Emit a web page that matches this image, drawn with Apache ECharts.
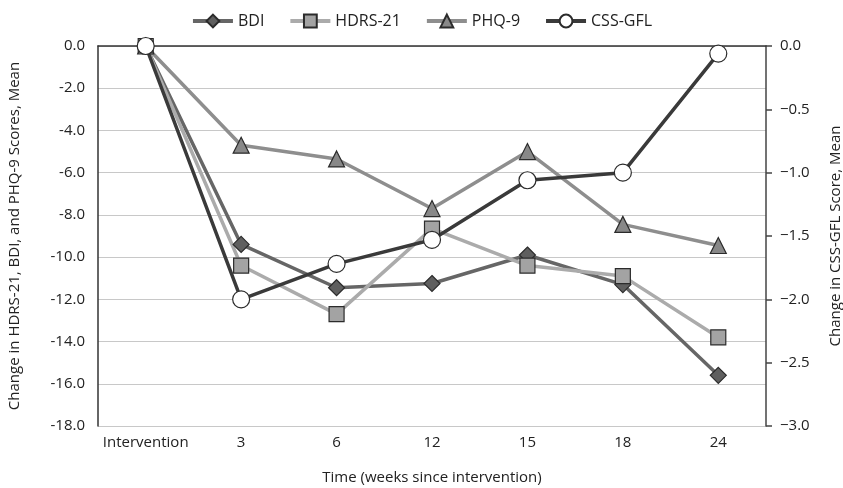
<!DOCTYPE html>
<html>
<head>
<meta charset="utf-8">
<script src="https://cdn.jsdelivr.net/npm/echarts@6/dist/echarts.min.js"></script>
<style>html,body{margin:0;padding:0;background:#fff;}#c{width:843px;height:488px;}</style>
</head>
<body>
<div id="c"></div>
<script>
var categories = ['Intervention', '3', '6', '12', '15', '18', '24'];
var bdi = [0, -9.4, -11.45, -11.25, -9.9, -11.3, -15.6];
var hdrs = [0, -10.4, -12.7, -8.65, -10.4, -10.9, -13.8];
var phq = [0, -4.7, -5.35, -7.7, -5.0, -8.45, -9.45];
var cssgfl = [0, -2.0, -1.72, -1.53, -1.06, -1.0, -0.06];
var leftTicks = {min: -18, max: 0, interval: 2};
var rightTicks = {min: -3, max: 0, interval: 0.5};

var FONT = '"Open Sans", "Noto Sans", sans-serif';
var chart = echarts.init(document.getElementById('c'), null, {renderer: 'canvas'});
function mk(name, data, lineColor, symbol, size, fill, yIdx) {
  return {
    name: name, type: 'line', data: data, yAxisIndex: yIdx,
    symbol: symbol, symbolSize: size, showAllSymbol: true,
    lineStyle: {color: lineColor, width: 3.5},
    itemStyle: {color: fill, borderColor: '#2b2b2b', borderWidth: 1.2},
    emphasis: {disabled: true}
  };
}
chart.setOption({
  animation: false,
  textStyle: {fontFamily: FONT},
  legend: {
    top: 8, left: 'center', itemWidth: 40, itemHeight: 16, itemGap: 24,
    lineStyle: {width: 4},
    textStyle: {fontSize: 16, color: '#222', fontFamily: FONT},
    data: ['BDI', 'HDRS-21', 'PHQ-9', 'CSS-GFL']
  },
  grid: {left: 98, right: 77, top: 46, bottom: 62, containLabel: false, outerBoundsMode: 'none'},
  xAxis: {
    type: 'category', data: categories, boundaryGap: true,
    name: 'Time (weeks since intervention)', nameLocation: 'middle', nameGap: 44,
    nameTextStyle: {fontSize: 15, color: '#222'},
    axisLine: {lineStyle: {color: '#333', width: 1.5}},
    axisTick: {show: false},
    axisLabel: {fontSize: 15, color: '#222', margin: 9, interval: 0}
  },
  yAxis: [{
    type: 'value', min: leftTicks.min, max: leftTicks.max, interval: leftTicks.interval,
    position: 'left',
    name: 'Change in HDRS-21, BDI, and PHQ-9 Scores, Mean', nameLocation: 'middle', nameGap: 76,
    nameTextStyle: {fontSize: 15, color: '#222'},
    axisLine: {show: true, lineStyle: {color: '#333', width: 1.5}},
    axisTick: {show: false},
    axisLabel: {fontSize: 15, color: '#222', margin: 13, formatter: function (v) { return v.toFixed(1); }},
    splitLine: {lineStyle: {color: '#c8c8c8', width: 1.2}}
  }, {
    type: 'value', min: rightTicks.min, max: rightTicks.max, interval: rightTicks.interval,
    position: 'right',
    name: 'Change in CSS-GFL Score, Mean', nameLocation: 'middle', nameGap: 62, nameRotate: 90,
    nameTextStyle: {fontSize: 15, color: '#222'},
    axisLine: {show: true, lineStyle: {color: '#444', width: 1.5}},
    axisTick: {show: true, length: 6, lineStyle: {color: '#444', width: 1.5}},
    axisLabel: {fontSize: 15, color: '#222', margin: 14, formatter: function (v) { return (v < 0 ? '\u2212' + Math.abs(v).toFixed(1) : v.toFixed(1)); }},
    splitLine: {show: false}
  }],
  series: [
    mk('BDI', bdi, '#666666', 'diamond', 16, '#5f5f5f', 0),
    mk('HDRS-21', hdrs, '#ababab', 'rect', 15, '#a3a3a3', 0),
    mk('PHQ-9', phq, '#8e8e8e', 'triangle', 16, '#888888', 0),
    mk('CSS-GFL', cssgfl, '#3a3a3a', 'circle', 17, '#ffffff', 1)
  ]
});
</script>
</body>
</html>
